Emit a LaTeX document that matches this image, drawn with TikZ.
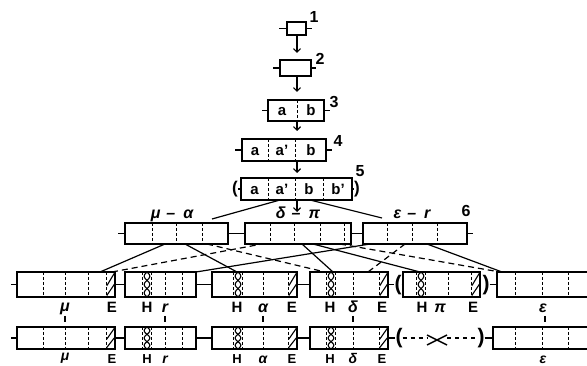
\documentclass[tikz,border=0pt]{standalone}
\usepackage{amsmath}
\usepackage{fontspec}
\setmainfont{Liberation Sans}
\usetikzlibrary{arrows.meta}
\newcommand\gb[5]{\node[gbox, minimum width={#4-#2}, minimum height={#5-#3}] (#1) at (#2,#3) {};}
\newcommand\dv[3]{\draw[div] (#1,#2) -- (#1,#3);}
\newcommand\hch[3]{%
  \draw[hat] plot[domain=0:1,samples=31,smooth] ({#1+2.8*sin(540*\x)},{#2+(#3-#2)*\x});
  \draw[hat] plot[domain=0:1,samples=31,smooth] ({#1-2.8*sin(540*\x)},{#2+(#3-#2)*\x});
  \dv{#1-4.5}{#2}{#3}\dv{#1+4.5}{#2}{#3}}
\newcommand\ehat[4]{%
  \dv{#1}{#3}{#4}
  \draw[hat] ({#1+0.8},{#4-1.5}) -- ({#2-0.8},{#3+(#4-#3)*0.5});
  \draw[hat] ({#1+0.8},{#3+(#4-#3)*0.55}) -- ({#2-0.8},{#3+1.5});}
\newcommand\gdash{\hspace{6pt}–\hspace{8pt}}
\begin{document}
\begin{tikzpicture}[x=1pt,y=-1pt,
  gbox/.style={draw, line width=1.8pt, inner sep=0pt, outer sep=0pt, anchor=north west},
  div/.style={line width=0.9pt, dash pattern=on 3pt off 2pt},
  hat/.style={line width=1.1pt},
  stub/.style={line width=1.5pt},
  conn/.style={line width=1.2pt},
  dconn/.style={line width=1.2pt, dash pattern=on 6pt off 4pt},
  arr/.style={line width=1.2pt, -{Straight Barb[length=3.5pt,width=7pt]}},
  tx/.style={font=\fontsize{15}{15}\selectfont\bfseries, inner sep=0pt, anchor=base},
  gk/.style={font=\fontsize{16}{16}\selectfont\bfseries\itshape, inner sep=0pt, anchor=base},
  num/.style={font=\fontsize{16}{16}\selectfont\bfseries, inner sep=0pt, anchor=base},
  par/.style={font=\fontsize{21}{21}\selectfont\bfseries, inner sep=0pt},
]
\useasboundingbox (0,0) rectangle (587,366);
\clip (0,0) rectangle (587,366);

% ---------- top chain ----------
\gb{b1}{287}{22}{306}{35}
\gb{b2}{280}{60}{311}{76}
\gb{b3}{268}{100}{324}{121}
\gb{b4}{242}{139}{326}{161}
\gb{b5}{241}{178}{352}{200}
\draw[stub] (b1.west) -- ++(-8,0);
\draw[stub] (b1.east) -- ++(6,0);
\draw[stub] (b2.west) -- ++(-7,0);
\draw[stub] (b2.east) -- ++(5,0);
\draw[stub] (b3.west) -- ++(-6,0);
\draw[stub] (b3.east) -- ++(6,0);
\draw[stub] (b4.west) -- ++(-7,0);
\draw[stub] (b4.east) -- ++(6,0);
\dv{297}{100}{121}
\dv{268}{139}{161}\dv{295}{139}{161}
\dv{268}{178}{200}\dv{295}{178}{200}\dv{323}{178}{200}
\node[tx] (t3a) at (282,116) {a};
\node[tx] (t3b) at (311,116) {b};
\node[tx] (t4a) at (255,155.5) {a};
\node[tx] (t4c) at (282,155.5) {a'};
\node[tx] (t4b) at (311,155.5) {b};
\node[tx] (t5a) at (254.5,194.5) {a};
\node[tx] (t5c) at (282,194.5) {a'};
\node[tx] (t5b) at (309,194.5) {b};
\node[tx] (t5d) at (338,194.5) {b'};
\node[par, font=\fontsize{17}{17}\selectfont\bfseries] (p5l) at (235,189) {(};
\node[par, font=\fontsize{17}{17}\selectfont\bfseries] (p5r) at (357,189) {)};
\draw[stub] (b5.west) -- (b5.west -| p5l.east);
\draw[stub] (b5.east) -- (b5.east -| p5r.west);
\node[num] (n1) at (314,23) {1};
\node[num] (n2) at (320,65) {2};
\node[num] (n3) at (334,108) {3};
\node[num] (n4) at (338,147) {4};
\node[num] (n5) at (360,177) {5};
\node[num] (n6) at (466,217) {6};
\coordinate (ax) at (297,0);
\coordinate (ab) at (297,212);
\draw[arr, shorten >=7pt] (b1.south -| ax) -- (b2.north -| ax);
\draw[arr, shorten >=8pt] (b2.south -| ax) -- (b3.north -| ax);
\draw[arr, shorten >=8pt] (b3.south -| ax) -- (b4.north -| ax);
\draw[arr, shorten >=5pt] (b4.south -| ax) -- (b5.north -| ax);
\draw[arr] (b5.south -| ax) -- (ab);

% ---------- level 6 ----------
\gb{A}{125}{223}{228}{244}
\gb{B}{245}{223}{351}{244}
\gb{C}{363}{223}{467}{244}
\dv{152}{223}{244}\dv{176}{223}{244}\dv{202}{223}{244}
\dv{270}{223}{244}\dv{294}{223}{244}\dv{320}{223}{244}\dv{344}{223}{244}
\dv{387}{223}{244}\dv{412}{223}{244}\dv{437}{223}{244}
\draw[stub] (A.west) -- ++(-7,0);
\draw[stub] (A.east) -- (B.west);
\draw[stub] (B.east) -- (C.west);
\draw[stub] (C.east) -- ++(6,0);
\node[gk] (labA) at (172,219) {μ\gdash α};
\node[gk] (labB) at (298,219) {δ\gdash π};
\node[gk] (labC) at (412,219) {ε\gdash r};
\coordinate (la) at (212,219);
\coordinate (lc) at (382,218);
\draw[conn] ([xshift=39pt]b5.south west) -- (la);
\draw[conn] ([xshift=69pt]b5.south west) -- (lc);

% ---------- level 7 ----------
\gb{D1}{17}{272}{115}{297}
\gb{D2}{125}{272}{196}{297}
\gb{D3}{212}{272}{297}{297}
\gb{D4}{310}{272}{388}{297}
\gb{D5}{403}{272}{480}{297}
\gb{D6}{497}{272}{640}{297}
\dv{43}{272}{297}\dv{65}{272}{297}\dv{88}{272}{297}\ehat{106}{115}{272}{297}
\hch{147}{272}{297}\dv{165}{272}{297}\dv{182}{272}{297}
\hch{238}{272}{297}\dv{263}{272}{297}\ehat{288}{297}{272}{297}
\hch{331}{272}{297}\dv{353}{272}{297}\ehat{379}{388}{272}{297}
\hch{421}{272}{297}\dv{448}{272}{297}\ehat{471}{480}{272}{297}
\dv{515}{272}{297}\dv{542}{272}{297}\dv{568}{272}{297}
\node[par] (p7l) at (398,285) {(};
\node[par] (p7r) at (486,285) {)};
\draw[stub] (D1.west) -- ++(-6,0);
\draw[stub] (D1.east) -- (D2.west);
\draw[stub] (D2.east) -- (D3.west);
\draw[stub] (D3.east) -- (D4.west);
\draw[stub] (D4.east) -- (D4.east -| p7l.west);
\draw[stub] (D5.west -| p7l.east) -- (D5.west);
\draw[stub] (D6.west -| p7r.east) -- (D6.west);

\node[gk] (m7) at (65,312) {μ};
\node[tx] (e71) at (112,313) {E};
\node[tx] (h72) at (147,313) {H};
\node[gk] (r7) at (165,313) {r};
\node[tx] (h73) at (237,313) {H};
\node[gk] (a7) at (263,313) {α};
\node[tx] (e73) at (292,313) {E};
\node[tx] (h74) at (330,313) {H};
\node[gk] (d7) at (353,313) {δ};
\node[tx] (e74) at (382,313) {E};
\node[tx] (h75) at (422,313) {H};
\node[gk] (p7) at (440,313) {π};
\node[tx] (e75) at (473,313) {E};
\node[gk] (eps7) at (543,313) {ε};

% ---------- connectors level 6 -> 7 ----------
\draw[conn] ([xshift=40pt]A.south west) -- ([xshift=83pt]D1.north west);
\draw[conn] ([xshift=60pt]A.south west) -- ([xshift=25pt]D3.north west);
\draw[conn] (D2.north east) -- ([xshift=7pt]C.south west);
\draw[conn] ([xshift=57pt]B.south west) -- ([xshift=23pt]D4.north west);
\draw[conn] ([xshift=68pt]B.south west) -- ([xshift=17pt]D5.north west);
\draw[conn] ([xshift=64pt]C.south west) -- ([xshift=5pt]D6.north west);
\draw[dconn] ([xshift=95pt]D1.north west) -- ([xshift=17pt]B.south west);
\draw[dconn] ([xshift=82pt]A.south west) -- ([xshift=15pt]D4.north west);
\draw[dconn] ([xshift=95pt]B.south west) -- ([xshift=3pt]D6.north west);
\draw[dconn] ([xshift=42pt]C.south west) -- ([xshift=58pt]D4.north west);

% ---------- ticks ----------
\draw[stub] (65,316) -- (65,322);
\draw[stub] (165,316) -- (165,322);
\draw[stub] (263,316) -- (263,322);
\draw[stub] (353,316) -- (353,322);
\draw[stub] (545,316) -- (545,322);

% ---------- level 8 ----------
\gb{E1}{17}{327}{115}{349}
\gb{E2}{125}{327}{196}{349}
\gb{E3}{212}{327}{297}{349}
\gb{E4}{310}{327}{388}{349}
\gb{E6}{493}{327}{640}{349}
\dv{43}{327}{349}\dv{65}{327}{349}\dv{88}{327}{349}\ehat{106}{115}{327}{349}
\hch{147}{327}{349}\dv{165}{327}{349}\dv{182}{327}{349}
\hch{238}{327}{349}\dv{263}{327}{349}\ehat{288}{297}{327}{349}
\hch{331}{327}{349}\dv{353}{327}{349}\ehat{379}{388}{327}{349}
\dv{515}{327}{349}\dv{542}{327}{349}\dv{568}{327}{349}
\node[par] (p8l) at (399,338) {(};
\node[par] (p8r) at (481,338) {)};
\draw[stub] (E1.west) -- ++(-6,0);
\draw[stub] (E1.east) -- (E2.west);
\draw[stub] (E2.east) -- (E3.west);
\draw[stub] (E3.east) -- (E4.west);
\draw[stub] (E4.east) -- (E4.east -| p8l.west);
\draw[stub] (E6.west -| p8r.east) -- (E6.west);
\coordinate (x1) at (427,335);
\coordinate (x2) at (447,345);
\coordinate (x3) at (427,345);
\coordinate (x4) at (447,335);
\draw[stub] (x1) -- (x2);
\draw[stub] (x3) -- (x4);
\draw[line width=1.4pt, dash pattern=on 4pt off 4pt] (p8l.east |- E4.east) -- (x1 |- E4.east);
\draw[line width=1.4pt, dash pattern=on 4pt off 4pt] (x2 |- E4.east) -- (p8r.west |- E4.east);

\node[gk, font=\fontsize{14}{14}\selectfont\bfseries\itshape] (m8) at (65,361) {μ};
\node[tx, font=\fontsize{13}{13}\selectfont\bfseries] (e81) at (112,363) {E};
\node[tx, font=\fontsize{13}{13}\selectfont\bfseries] (h82) at (147,363) {H};
\node[gk, font=\fontsize{14}{14}\selectfont\bfseries\itshape] (r8) at (165,363) {r};
\node[tx, font=\fontsize{13}{13}\selectfont\bfseries] (h83) at (237,363) {H};
\node[gk, font=\fontsize{14}{14}\selectfont\bfseries\itshape] (a8) at (263,363) {α};
\node[tx, font=\fontsize{13}{13}\selectfont\bfseries] (e83) at (292,363) {E};
\node[tx, font=\fontsize{13}{13}\selectfont\bfseries] (h84) at (330,363) {H};
\node[gk, font=\fontsize{14}{14}\selectfont\bfseries\itshape] (d8) at (353,363) {δ};
\node[tx, font=\fontsize{13}{13}\selectfont\bfseries] (e84) at (382,363) {E};
\node[gk, font=\fontsize{14}{14}\selectfont\bfseries\itshape] (eps8) at (543,363) {ε};
\end{tikzpicture}
\end{document}
